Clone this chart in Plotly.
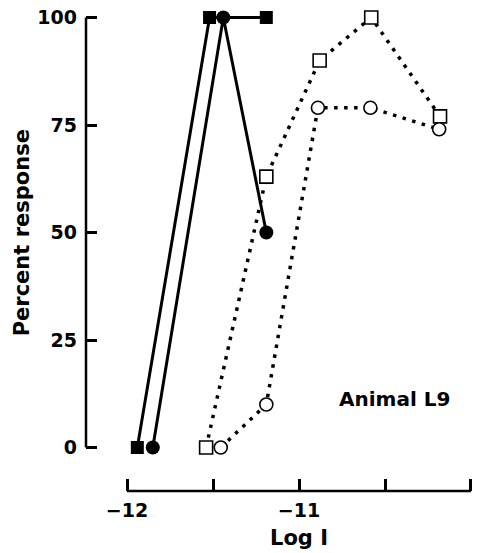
import plotly.graph_objects as go

# Data (log intensity vs percent response)
x_filled_sq = [-11.94, -11.52, -11.19]
y_filled_sq = [0, 100, 100]
x_filled_ci = [-11.85, -11.44, -11.19]
y_filled_ci = [0, 100, 50]
x_open_sq = [-11.54, -11.19, -10.88, -10.58, -10.18]
y_open_sq = [0, 63, 90, 100, 77]
x_open_ci = [-11.455, -11.19, -10.89, -10.585, -10.185]
y_open_ci = [0, 10, 79, 79, 74]

x_tickvals = [-12, -11.5, -11, -10.5, -10]
x_ticktext = ["\u221212", "", "\u221211", "", "\u221210"]
y_tickvals = [0, 25, 50, 75, 100]
y_ticktext = ["0", "25", "50", "75", "100"]

FONT = "DejaVu Sans"

fig = go.Figure()

dot_dash = "3.5px,6.5px"

fig.add_trace(go.Scatter(
    x=x_open_sq, y=y_open_sq, mode="lines+markers",
    line=dict(color="black", width=3.5, dash=dot_dash),
    marker=dict(symbol="square", size=13, color="white", line=dict(color="black", width=1.6)),
    cliponaxis=False, showlegend=False))
fig.add_trace(go.Scatter(
    x=x_open_ci, y=y_open_ci, mode="lines+markers",
    line=dict(color="black", width=3.5, dash=dot_dash),
    marker=dict(symbol="circle", size=13, color="white", line=dict(color="black", width=1.6)),
    cliponaxis=False, showlegend=False))
fig.add_trace(go.Scatter(
    x=x_filled_sq, y=y_filled_sq, mode="lines+markers",
    line=dict(color="black", width=3),
    marker=dict(symbol="square", size=13, color="black"),
    cliponaxis=False, showlegend=False))
fig.add_trace(go.Scatter(
    x=x_filled_ci, y=y_filled_ci, mode="lines+markers",
    line=dict(color="black", width=3),
    marker=dict(symbol="circle", size=14, color="black"),
    cliponaxis=False, showlegend=False))

# offset axis lines
fig.add_shape(type="line", xref="paper", yref="y", x0=0, x1=0, y0=0, y1=100,
              line=dict(color="black", width=2.5))
fig.add_shape(type="line", xref="x", yref="paper", x0=-12, x1=-10, y0=0, y1=0,
              line=dict(color="black", width=2.5))

fig.add_annotation(x=-10.445, y=11.3, xref="x", yref="y", text="Animal L9",
                   showarrow=False, font=dict(family=FONT, size=20, color="black", weight="bold"))

# axis titles centred on the offset axis lines
fig.add_annotation(x=-11, y=-0.097, xref="x", yref="paper", text="Log I",
                   showarrow=False, yanchor="middle",
                   font=dict(family=FONT, size=21, color="black", weight="bold"))
fig.add_annotation(x=-0.162, y=50, xref="paper", yref="y", text="Percent response",
                   showarrow=False, textangle=-90, xanchor="center",
                   font=dict(family=FONT, size=21, color="black", weight="bold"))

fig.update_layout(
    width=488, height=553,
    margin=dict(l=86, r=6, t=8, b=62),
    paper_bgcolor="white", plot_bgcolor="white",
    font=dict(family=FONT, color="black"),
    xaxis=dict(range=[-12.2384, -9.936], showgrid=False, zeroline=False, showline=False,
               tickmode="array", tickvals=x_tickvals, ticktext=x_ticktext,
               ticks="inside", ticklen=12, tickwidth=2.5, tickcolor="black",
               ticklabelstandoff=6,
               tickfont=dict(family=FONT, size=19, weight="bold")),
    yaxis=dict(range=[-10.116, 102.21], showgrid=False, zeroline=False, showline=False,
               tickmode="array", tickvals=y_tickvals, ticktext=y_ticktext,
               ticks="inside", ticklen=11, tickwidth=2.5, tickcolor="black",
               ticklabelstandoff=8,
               tickfont=dict(family=FONT, size=19, weight="bold")),
)

fig.write_html("out.html")
